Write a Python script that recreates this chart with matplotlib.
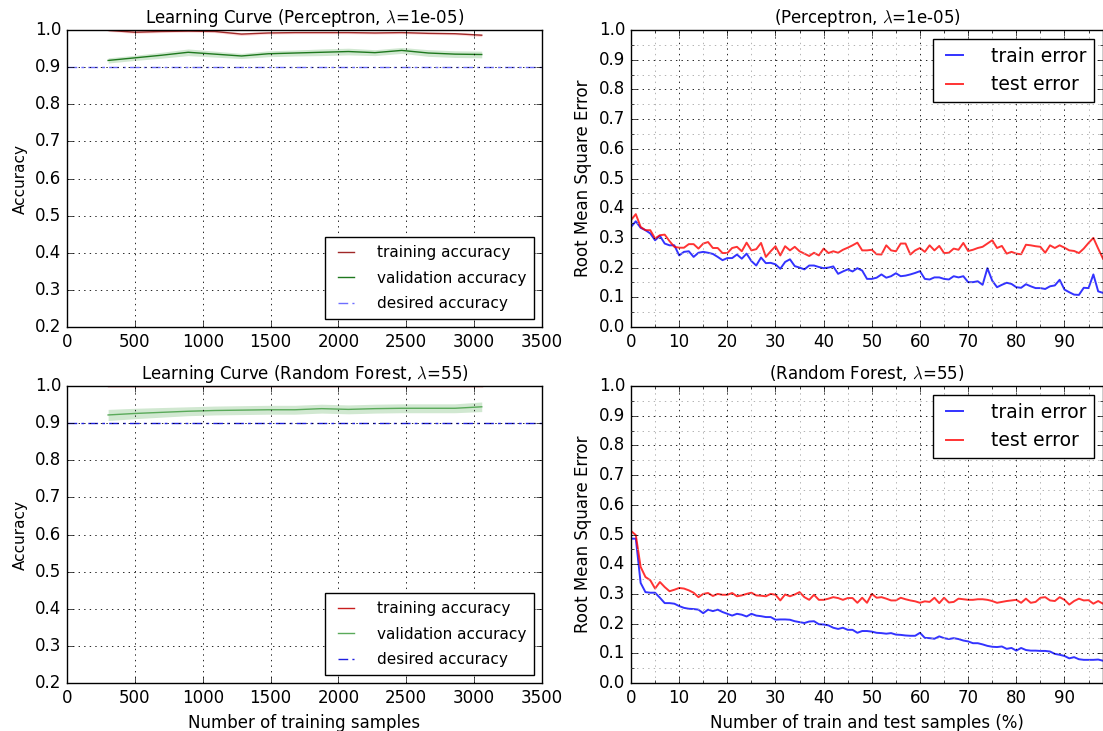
import matplotlib
matplotlib.use("Agg")
import matplotlib.pyplot as plt
from matplotlib.ticker import MultipleLocator
import numpy as np

plt.style.use("classic")

# ---------------- data ----------------
train_sizes = [303, 500, 696, 893, 1089, 1286, 1483, 1679, 1876, 2073, 2269, 2466, 2663, 2859, 3056]

perc_train_mean = [0.999, 0.994, 0.996, 0.997, 0.996, 0.989, 0.992, 0.993, 0.993, 0.993, 0.992, 0.993, 0.991, 0.990, 0.986]
perc_train_std = [0.003, 0.003, 0.003, 0.003, 0.003, 0.004, 0.003, 0.003, 0.003, 0.003, 0.003, 0.003, 0.003, 0.003, 0.004]
perc_val_mean = [0.918, 0.925, 0.932, 0.940, 0.935, 0.930, 0.936, 0.938, 0.940, 0.942, 0.939, 0.945, 0.938, 0.935, 0.934]
perc_val_std = [0.007, 0.007, 0.008, 0.009, 0.008, 0.007, 0.008, 0.008, 0.009, 0.009, 0.008, 0.008, 0.009, 0.009, 0.009]

rf_train_mean = [1.0, 1.0, 1.0, 1.0, 1.0, 1.0, 1.0, 1.0, 1.0, 1.0, 1.0, 1.0, 1.0, 1.0, 1.0]
rf_train_std = [0.0005, 0.0005, 0.0005, 0.0005, 0.0005, 0.0005, 0.0005, 0.0005, 0.0005, 0.0005, 0.0005, 0.0005, 0.0005, 0.0005, 0.0005]
rf_val_mean = [0.922, 0.926, 0.929, 0.932, 0.934, 0.935, 0.936, 0.936, 0.939, 0.937, 0.939, 0.940, 0.940, 0.940, 0.944]
rf_val_std = [0.015, 0.014, 0.013, 0.012, 0.012, 0.012, 0.012, 0.012, 0.012, 0.012, 0.012, 0.012, 0.012, 0.012, 0.013]

desired_accuracy = 0.9

perc_train_err = [0.337, 0.356, 0.334, 0.326, 0.315, 0.292, 0.307, 0.281, 0.275, 0.275,
                  0.241, 0.253, 0.255, 0.236, 0.250, 0.253, 0.250, 0.246, 0.236, 0.225,
                  0.232, 0.232, 0.244, 0.230, 0.247, 0.222, 0.207, 0.234, 0.215, 0.216,
                  0.211, 0.196, 0.219, 0.228, 0.205, 0.200, 0.194, 0.207, 0.207, 0.202,
                  0.198, 0.200, 0.204, 0.179, 0.187, 0.194, 0.187, 0.198, 0.190, 0.162,
                  0.162, 0.166, 0.177, 0.166, 0.171, 0.181, 0.171, 0.173, 0.177, 0.182,
                  0.188, 0.162, 0.160, 0.167, 0.167, 0.162, 0.160, 0.171, 0.167, 0.171,
                  0.151, 0.151, 0.154, 0.142, 0.198, 0.156, 0.134, 0.142, 0.149, 0.145,
                  0.134, 0.132, 0.144, 0.137, 0.131, 0.131, 0.128, 0.137, 0.140, 0.159,
                  0.126, 0.117, 0.109, 0.108, 0.132, 0.131, 0.177, 0.120, 0.115]
perc_test_err = [0.360, 0.380, 0.337, 0.326, 0.326, 0.298, 0.309, 0.311, 0.289, 0.270,
                 0.267, 0.267, 0.279, 0.279, 0.264, 0.281, 0.286, 0.266, 0.266, 0.249,
                 0.249, 0.266, 0.270, 0.255, 0.284, 0.258, 0.262, 0.283, 0.236, 0.255,
                 0.272, 0.241, 0.272, 0.258, 0.270, 0.255, 0.247, 0.239, 0.250, 0.241,
                 0.264, 0.249, 0.255, 0.250, 0.260, 0.267, 0.275, 0.284, 0.258, 0.258,
                 0.260, 0.245, 0.244, 0.275, 0.258, 0.255, 0.281, 0.281, 0.244, 0.258,
                 0.266, 0.253, 0.275, 0.258, 0.273, 0.249, 0.250, 0.264, 0.260, 0.283,
                 0.256, 0.260, 0.266, 0.270, 0.281, 0.292, 0.266, 0.273, 0.247, 0.253,
                 0.247, 0.245, 0.277, 0.275, 0.272, 0.270, 0.250, 0.275, 0.266, 0.275,
                 0.267, 0.258, 0.256, 0.249, 0.264, 0.283, 0.300, 0.264, 0.230]

rf_train_err = [0.486, 0.486, 0.337, 0.306, 0.304, 0.304, 0.287, 0.269, 0.269, 0.267,
                0.259, 0.253, 0.250, 0.249, 0.247, 0.235, 0.247, 0.242, 0.247, 0.239,
                0.233, 0.227, 0.233, 0.230, 0.224, 0.233, 0.227, 0.225, 0.222, 0.222,
                0.213, 0.214, 0.214, 0.213, 0.208, 0.205, 0.202, 0.207, 0.208, 0.198,
                0.197, 0.194, 0.186, 0.182, 0.186, 0.179, 0.179, 0.169, 0.175, 0.175,
                0.173, 0.169, 0.168, 0.166, 0.168, 0.163, 0.162, 0.160, 0.159, 0.159,
                0.169, 0.152, 0.151, 0.149, 0.157, 0.151, 0.148, 0.151, 0.148, 0.143,
                0.140, 0.134, 0.134, 0.130, 0.125, 0.122, 0.121, 0.123, 0.115, 0.118,
                0.109, 0.118, 0.111, 0.109, 0.109, 0.108, 0.108, 0.106, 0.098, 0.095,
                0.091, 0.083, 0.087, 0.080, 0.078, 0.078, 0.078, 0.079, 0.075]
rf_test_err = [0.512, 0.498, 0.391, 0.357, 0.346, 0.318, 0.340, 0.323, 0.309, 0.314,
               0.320, 0.318, 0.312, 0.304, 0.289, 0.300, 0.303, 0.293, 0.300, 0.297,
               0.297, 0.303, 0.292, 0.295, 0.300, 0.304, 0.295, 0.294, 0.292, 0.300,
               0.297, 0.278, 0.298, 0.292, 0.298, 0.306, 0.289, 0.280, 0.297, 0.280,
               0.280, 0.284, 0.289, 0.286, 0.280, 0.286, 0.286, 0.270, 0.287, 0.270,
               0.300, 0.287, 0.289, 0.284, 0.278, 0.278, 0.287, 0.282, 0.278, 0.275,
               0.270, 0.275, 0.273, 0.287, 0.269, 0.287, 0.271, 0.273, 0.284, 0.282,
               0.280, 0.280, 0.282, 0.282, 0.280, 0.276, 0.270, 0.273, 0.276, 0.278,
               0.280, 0.270, 0.284, 0.270, 0.273, 0.287, 0.289, 0.278, 0.276, 0.289,
               0.280, 0.264, 0.276, 0.284, 0.278, 0.279, 0.267, 0.276, 0.267]

left_titles = [r"Learning Curve (Perceptron, $\lambda$=1e-05)", r"Learning Curve (Random Forest, $\lambda$=55)"]
right_titles = [r"(Perceptron, $\lambda$=1e-05)", r"(Random Forest, $\lambda$=55)"]

# ---------------- figure ----------------
W, H = 1103, 731
fig = plt.figure(figsize=(W / 100, H / 100), dpi=100, facecolor="white")


def fax(x0, y0, x1, y1):
    return fig.add_axes([x0 / W, 1 - y1 / H, (x1 - x0) / W, (y1 - y0) / H])


rows = [(30, 327), (386, 683)]
lc_data = [
    (perc_train_mean, perc_train_std, perc_val_mean, perc_val_std,
     ("#a02828", "#1e781e", "#6e6eff")),
    (rf_train_mean, rf_train_std, rf_val_mean, rf_val_std,
     ("#c81e1e", "#5aaa5a", "#1e1ee0")),
]
err_data = [(perc_train_err, perc_test_err), (rf_train_err, rf_test_err)]

for i, (y0, y1) in enumerate(rows):
    # ---- learning curve ----
    ax = fax(67, y0, 542, y1)
    tm, ts, vm, vs, cols = lc_data[i]
    xs = np.array(train_sizes)
    tm_, ts_, vm_, vs_ = map(np.array, (tm, ts, vm, vs))
    ax.fill_between(xs, tm_ - ts_, tm_ + ts_, color="r", alpha=0.15, lw=0)
    ax.fill_between(xs, vm_ - vs_, vm_ + vs_, color="g", alpha=0.18, lw=0)
    ax.plot(xs, tm_, color=cols[0], lw=1.0, label="training accuracy")
    ax.plot(xs, vm_, color=cols[1], lw=1.0, label="validation accuracy")
    ax.axhline(desired_accuracy, color=cols[2], lw=1.0, dashes=(7, 3, 2, 3),
               label="desired accuracy")
    ax.set_xlim(0, 3500)
    ax.set_ylim(0.2, 1.0)
    ax.xaxis.set_major_locator(MultipleLocator(500))
    ax.yaxis.set_major_locator(MultipleLocator(0.1))
    ax.grid(True, ls=":", color="k", lw=0.6)
    ax.set_title(left_titles[i], fontsize=12)
    ax.set_ylabel("Accuracy", fontsize=11)
    ax.tick_params(labelsize=12)
    if i == 1:
        ax.set_xlabel("Number of training samples", fontsize=12)
    ax.legend(loc="lower right", fontsize=11, handlelength=1.6, borderpad=0.55,
              labelspacing=0.67, handletextpad=1.2)

    # ---- error curve ----
    ax2 = fax(631, y0, 1103, y1)
    tr, te = err_data[i]
    xe = np.arange(len(tr))
    ax2.plot(xe, tr, color="b", lw=1.4, alpha=0.8, label="train error")
    ax2.plot(xe, te, color="r", lw=1.4, alpha=0.8, label="test error")
    ax2.set_xlim(0, 98)
    ax2.set_ylim(0.0, 1.0)
    ax2.xaxis.set_major_locator(MultipleLocator(10))
    ax2.xaxis.set_minor_locator(MultipleLocator(5))
    ax2.yaxis.set_major_locator(MultipleLocator(0.1))
    ax2.yaxis.set_minor_locator(MultipleLocator(0.05))
    ax2.grid(True, which="major", ls=":", color="k", lw=0.6)
    ax2.grid(True, which="minor", ls=":", color="0.65", lw=0.6)
    ax2.set_title(right_titles[i], fontsize=12)
    ax2.set_ylabel("Root Mean Square Error", fontsize=12)
    ax2.tick_params(labelsize=12)
    if i == 1:
        ax2.set_xlabel("Number of train and test samples (%)", fontsize=12)
    ax2.legend(loc="upper right", fontsize=13.5, handlelength=1.5, borderpad=0.4,
               labelspacing=0.5, handletextpad=1.2)

fig.savefig("out.png", dpi=100, facecolor="white")
